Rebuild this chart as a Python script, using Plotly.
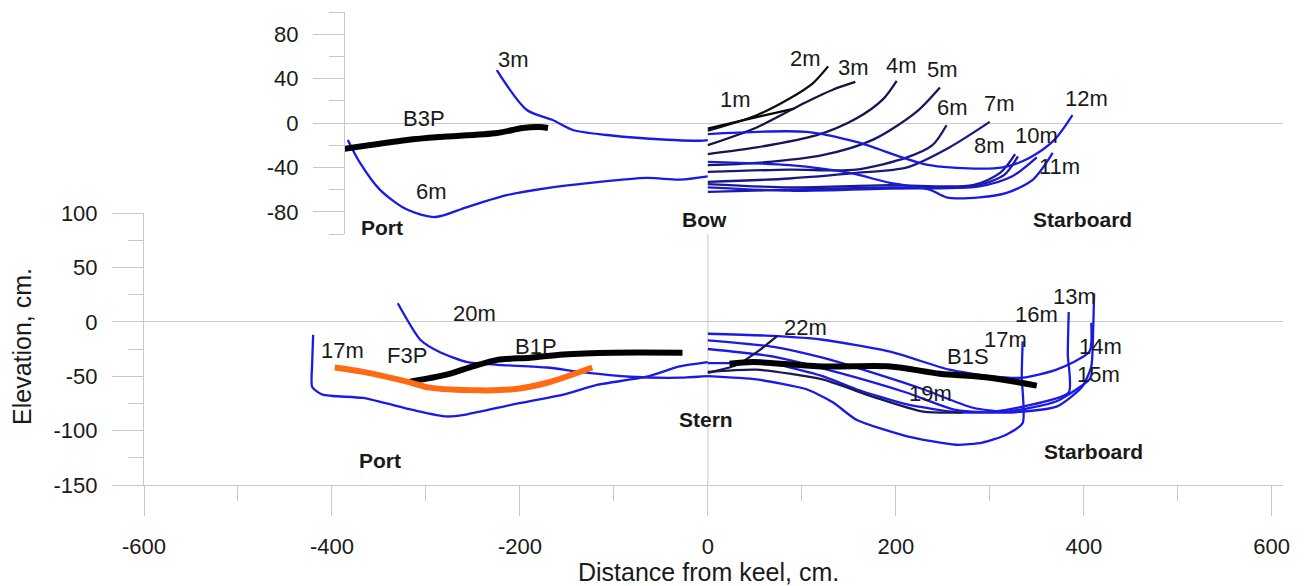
import plotly.graph_objects as go

# page body has an 8px default margin; compensate
OX, OY = 8, 8
W, H = 1304 - OX, 586 - OY
def fx(px): return (px - OX) / W
def fy(py): return 1 - (py - OY) / H

BLUE = '#1a1ae6'

# ---------------- Top panel (Bow) ----------------
bow_port_3m_x = [-224.5, -192.5, -165, -143.6, -107, -72, -8.5, 0]
bow_port_3m_y = [47.7, 11.7, 2.7, -6.3, -10.8, -13.5, -16, -15.5]
bow_port_6m_x = [-383, -370, -349, -320, -290, -256, -214, -171, -125, -65, -30, 0]
bow_port_6m_y = [-15.3, -36, -60, -78, -84.7, -75.7, -65, -58.6, -54, -49.5, -51, -48]
b3p_x = [-388, -320, -285, -224, -197, -179, -170]
b3p_y = [-23.4, -15.3, -12.6, -9, -4.5, -3.6, -4.5]

bow_stb = {
    '1m':  ([0, 45, 92], [-5, 4, 13]),
    '2m':  ([0, 52, 87, 112, 128], [-7, 7, 22, 36, 51]),
    '3m':  ([0, 52, 105, 133, 157], [-20, -4, 19, 30, 37]),
    '4m':  ([0, 52, 116, 158, 186, 201], [-28, -22, -11, 4, 21, 38]),
    '5m':  ([0, 52, 122, 176, 222, 247], [-38, -36, -29, -15, 10, 32]),
    '6m':  ([0, 87, 158, 212, 239, 254], [-44, -42, -42, -31, -20, -2]),
    '7m':  ([0, 87, 158, 212, 257, 300], [-53, -50, -45, -40, -22, 1]),
    '8m':  ([0, 87, 194, 282, 311, 327], [-55, -58, -56, -56, -45, -28]),
    '9m':  ([0, 87, 194, 282, 315, 330], [-62, -60, -58, -57, -47, -30]),
    '10m': ([0, 87, 194, 289, 324, 350], [-58, -61, -59, -57, -48, -31]),
    '11m': ([0, 87, 151, 194, 236, 254, 289, 318, 346, 367],
            [-35, -38, -45, -54, -60, -67, -67, -63, -51, -27]),
    '12m': ([0, 105, 158, 236, 314, 343, 369, 388], [-10, -8, -17, -38, -40, -31, -15, 7]),
}
bow_colors = ['#000000', '#0d0d1a', '#14143c', '#15154f', '#17175f', '#181870',
              '#191980', '#1a1a99', '#1a1ab0', '#1a1acc', '#1a1ae0', '#1a1ae6']

# ---------------- Bottom panel (Stern) ----------------
stern_port_20m_x = [-330, -306, -285, -256, -224, -171, -136, -83, -30, 0]
stern_port_20m_y = [17, -16.5, -28, -37, -39.5, -42, -46, -50.5, -51.4, -50]
stern_port_17m_x = [-420, -421, -421, -410, -367, -314, -278, -256, -207, -154, -118, -65, -30, 0]
stern_port_17m_y = [-12, -38, -60, -67, -70, -81, -87, -85, -76, -67, -58, -50.5, -41, -37]
f3p_x = [-397, -367, -320, -296, -243, -207, -171, -123]
f3p_y = [-42, -46, -55, -60.5, -63, -62, -56, -42]
b1p_x = [-317, -278, -250, -224, -189, -154, -101, -27]
b1p_y = [-55, -48.6, -41, -35, -33, -30, -28.4, -28.4]

stern_stb = {
    '14m': ([0, 70, 122, 194, 257, 300, 335, 371, 406, 408],
            [-11, -13, -16.5, -27.5, -44, -50, -51.4, -44, -27.5, -1]),
    '15m': ([0, 70, 122, 176, 229, 282, 317, 371, 406, 409],
            [-17, -23, -33, -47, -62, -79, -82.6, -73, -53, -47]),
    '13m': ([0, 70, 140, 211, 264, 317, 371, 398, 408, 410, 411],
            [-25, -32, -47, -65, -81, -83.5, -78, -60, -41, -7, 26]),
    '16m': ([0, 70, 122, 158, 212, 264, 300, 335, 384, 383, 384],
            [-38, -39, -50, -62, -76, -83, -83, -78, -65, -30, 9]),
    '17m': ([0, 52, 105, 133, 158, 211, 264, 292, 317, 335, 334, 335],
            [-50, -53, -62, -74, -90, -105, -113, -111, -104, -93, -50, -18]),
    '19m': ([0, 52, 122, 176, 229, 271], [-46, -44, -53, -69, -82.6, -83.5]),
    '22m': ([0, 30, 55, 74], [-47, -40, -26, -13]),
}
stern_colors = {'14m': BLUE, '15m': BLUE, '13m': BLUE, '16m': BLUE, '17m': BLUE,
                '19m': '#1a1a50', '22m': '#1a1a50'}
b1s_x = [23, 48, 122, 194, 247, 300, 350]
b1s_y = [-38.5, -37, -41, -41, -47.7, -51.4, -58.7]

x_ticks = [-600, -400, -200, 0, 200, 400, 600]
x_minor = [-500, -300, -100, 100, 300, 500]
y_ticks = [100, 50, 0, -50, -100, -150]
y_minor = [75, 25, -25, -75, -125]
y2_ticks = [80, 40, 0, -40, -80]
y2_minor = [100, 60, 20, -20, -60, -100]

fig = go.Figure()

def add(x, y, color, width, xa='x', ya='y', smooth=0.8):
    fig.add_trace(go.Scatter(x=x, y=y, mode='lines', xaxis=xa, yaxis=ya,
                             line=dict(color=color, width=width, shape='spline', smoothing=smooth),
                             showlegend=False, hoverinfo='skip'))

# top
add(bow_port_3m_x, bow_port_3m_y, BLUE, 2.3, 'x2', 'y2')
add(bow_port_6m_x, bow_port_6m_y, BLUE, 2.3, 'x2', 'y2')
for (k, (xs, ys)), c in zip(bow_stb.items(), bow_colors):
    add(xs, ys, c, 2.3, 'x2', 'y2')
add(b3p_x, b3p_y, '#000000', 6, 'x2', 'y2')

# bottom
add(stern_port_20m_x, stern_port_20m_y, BLUE, 2.3, 'x', 'y', 0.6)
add(stern_port_17m_x, stern_port_17m_y, BLUE, 2.3, 'x', 'y', 0.6)
for k, (xs, ys) in stern_stb.items():
    add(xs, ys, stern_colors[k], 2.3, 'x', 'y', 0.6)
add(b1p_x, b1p_y, '#000000', 6)
add(b1s_x, b1s_y, '#000000', 6)
add(f3p_x, f3p_y, '#ff6a13', 6)

GRID = '#c8c8c8'
TF = dict(family='Liberation Sans, Arial, sans-serif', size=22, color='#1a1a1a')

def lab(v): return [str(t) for t in v]

fig.update_layout(
    width=W, height=H, margin=dict(l=0, r=0, t=0, b=0),
    paper_bgcolor='white', plot_bgcolor='white',
    xaxis=dict(domain=[fx(144), fx(1283)], range=[-600, 612], anchor='y',
               tickvals=x_ticks, ticktext=lab(x_ticks), ticks='outside', ticklen=30, tickwidth=1, tickcolor=GRID,
               minor=dict(tickvals=x_minor, ticks='outside', ticklen=15, tickcolor=GRID, showgrid=False),
               showline=True, linecolor=GRID, linewidth=1, showgrid=False, zeroline=False,
               tickfont=TF, ticklabelstandoff=12, automargin=False),
    yaxis=dict(domain=[fy(485), fy(213)], range=[-150, 100], anchor='x',
               tickvals=y_ticks, ticktext=lab(y_ticks), ticks='outside', ticklen=31, tickwidth=1, tickcolor=GRID,
               minor=dict(tickvals=y_minor, ticks='outside', ticklen=15, tickcolor=GRID, showgrid=False),
               showline=True, linecolor=GRID, linewidth=1, showgrid=False,
               zeroline=True, zerolinecolor=GRID, zerolinewidth=1,
               tickfont=TF, ticklabelstandoff=10, automargin=False),
    xaxis2=dict(domain=[fx(345), fx(1283)], range=[-386, 612], anchor='y2',
                showline=False, showticklabels=False, ticks='', showgrid=False, zeroline=False),
    yaxis2=dict(domain=[fy(234), fy(12)], range=[-100, 100], anchor='x2',
                tickvals=y2_ticks, ticktext=lab(y2_ticks), ticks='outside', ticklen=31, tickwidth=1, tickcolor=GRID,
                minor=dict(tickvals=y2_minor, ticks='outside', ticklen=15, tickcolor=GRID, showgrid=False),
                showline=True, linecolor=GRID, linewidth=1, showgrid=False,
                zeroline=True, zerolinecolor=GRID, zerolinewidth=1,
                tickfont=TF, ticklabelstandoff=10, automargin=False),
)

fig.add_shape(type='line', xref='x', yref='paper', x0=0, x1=0, y0=fy(485), y1=fy(28),
              line=dict(color=GRID, width=1), layer='below')

LF = dict(family='Liberation Sans, Arial, sans-serif', size=22, color='#1a1a1a')
BF = dict(family='Liberation Sans, Arial, sans-serif', size=21, color='#1a1a1a', weight='bold')

top_labels = [('3m', -207, 56.8), ('B3P', -302, 4.5), ('6m', -294, -62),
              ('1m', 30, 21), ('2m', 104, 58), ('3m', 155, 50), ('4m', 206, 52), ('5m', 250, 48),
              ('6m', 260, 14.4), ('7m', 310, 18), ('8m', 300, -20), ('10m', 350, -11),
              ('11m', 374, -39), ('12m', 403, 22.5)]
top_bold = [('Port', -347, -94), ('Bow', -3, -87), ('Starboard', 399, -86.5)]
bot_labels = [('20m', -248, 8), ('17m', -389, -26), ('F3P', -320, -31), ('B1P', -183, -23),
              ('22m', 104, -5.5), ('B1S', 277, -32), ('17m', 317, -16.5), ('16m', 350, 6.4),
              ('13m', 390, 23), ('14m', 418, -23), ('15m', 416, -48), ('19m', 237, -66)]
bot_bold = [('Stern', -2, -90), ('Port', -349, -127.5), ('Starboard', 410, -119)]

for t, x, y in top_labels:
    fig.add_annotation(text=t, x=x, y=y, xref='x2', yref='y2', showarrow=False, font=LF)
for t, x, y in top_bold:
    fig.add_annotation(text=t, x=x, y=y, xref='x2', yref='y2', showarrow=False, font=BF)
for t, x, y in bot_labels:
    fig.add_annotation(text=t, x=x, y=y, xref='x', yref='y', showarrow=False, font=LF)
for t, x, y in bot_bold:
    fig.add_annotation(text=t, x=x, y=y, xref='x', yref='y', showarrow=False, font=BF)

fig.add_annotation(text='Distance from keel, cm.', x=fx(708), y=fy(572), xref='paper', yref='paper',
                   showarrow=False, font=dict(family='Liberation Sans, Arial, sans-serif', size=25, color='#1a1a1a'),
                   xanchor='center', yanchor='middle')
fig.add_annotation(text='Elevation, cm.', x=fx(22), y=fy(347), xref='paper', yref='paper',
                   showarrow=False, font=dict(family='Liberation Sans, Arial, sans-serif', size=25, color='#1a1a1a'),
                   textangle=-90, xanchor='center', yanchor='middle')

fig.write_html('out.html')
